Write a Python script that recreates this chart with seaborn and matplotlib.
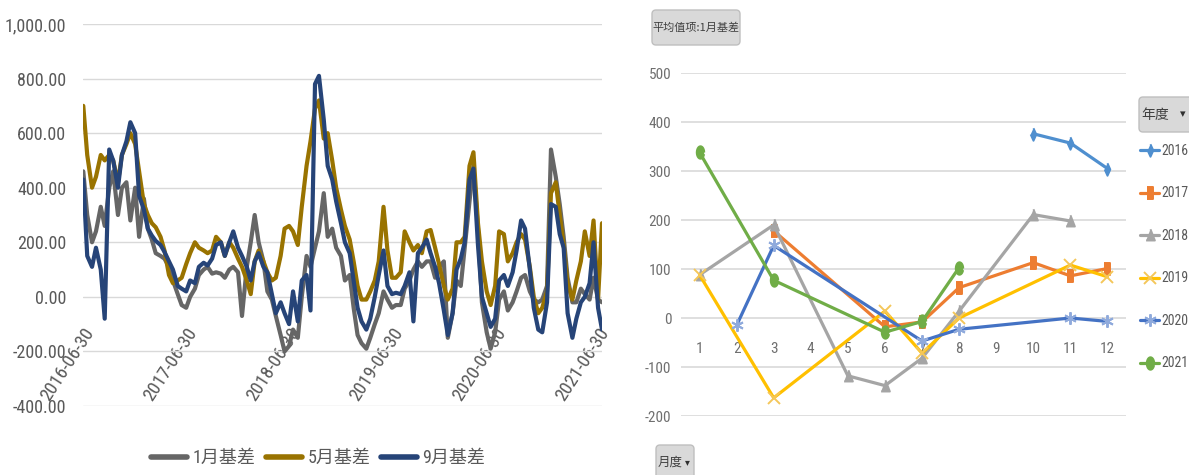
import numpy as np
import pandas as pd
import matplotlib
matplotlib.use("Agg")
import matplotlib.pyplot as plt
from matplotlib import font_manager as fm
from matplotlib.patches import FancyBboxPatch
from matplotlib.lines import Line2D
from matplotlib.ticker import FuncFormatter
import seaborn as sns

sns.set_style("white")

# Narrow Latin face first, CJK face for the Chinese labels
_names = {f.name for f in fm.fontManager.ttflist}
NARROW = next((n for n in ["Liberation Sans Narrow", "Roboto Condensed",
                           "Open Sans Condensed", "DejaVu Sans Condensed",
                           "Liberation Sans"] if n in _names), "DejaVu Sans")
CJK = "Noto Sans CJK SC"
plt.rcParams["font.family"] = [NARROW, CJK, "DejaVu Sans"]
plt.rcParams["axes.unicode_minus"] = False

TEXT = "#595959"
GRID = "#D9D9D9"

# ---------------- basis series (semi-monthly samples) ----------------
basis_dates = pd.date_range("2016-07-01", periods=122, freq="SMS")

jan_basis = [
    460, 300, 200, 240, 330, 260, 400, 460, 300, 400,
    420, 280, 400, 220, 360, 250, 210, 160, 150, 140,
    110, 60, 10, -30, -40, 0, 30, 80, 100, 110,
    85, 90, 85, 70, 100, 110, 90, -70, 110, 200,
    300, 200, 130, 20, -10, -70, -140, -200, -180, -120,
    -150, 0, 150, 110, 180, 240, 380, 220, 250, 180,
    150, 60, 80, -40, -140, -170, -190, -150, -100, -60,
    20, -10, -40, -30, -30, 30, 60, 100, 130, 110,
    130, 130, 70, 110, 130, -150, -60, 60, 40, 180,
    350, 480, 250, -20, -130, -190, -130, -10, 20, -50,
    -20, 20, 70, 80, 20, -10, -20, -10, 40, 540,
    440, 340, 220, 70, -20, -20, 30, 10, -10, 70,
    -10, -20,
]

may_basis = [
    700, 520, 400, 440, 520, 500, 520, 500, 420, 520,
    560, 600, 560, 460, 340, 300, 270, 255, 220, 170,
    80, 50, 60, 70, 120, 160, 200, 180, 170, 160,
    170, 220, 200, 150, 200, 180, 140, 110, 60, 10,
    130, 170, 130, 90, 60, 70, 150, 250, 260, 240,
    190, 330, 480, 570, 690, 720, 580, 600, 500, 400,
    320, 260, 210, 130, 40, -10, -10, 20, 60, 130,
    330, 170, 70, 70, 90, 240, 200, 170, 190, 160,
    240, 245, 180, 120, 40, -10, 30, 200, 200, 220,
    480, 530, 270, 130, 20, -30, 40, 240, 230, 130,
    160, 200, 230, 210, 110, 0, -60, -40, 20, 380,
    420, 300, 190, 50, -10, 60, 130, 240, 150, 280,
    -10, 270,
]

sep_basis = [
    430, 150, 110, 180, 100, -80, 540, 500, 400, 520,
    570, 640, 600, 370, 320, 250, 225, 205, 190, 165,
    130, 100, 40, 30, 20, 60, 50, 110, 125, 115,
    140, 190, 200, 150, 200, 240, 180, 150, 110, 60,
    130, 160, 110, 90, 10, -60, -20, -60, -100, 20,
    -90, 60, 80, -50, 780, 810, 650, 480, 430, 350,
    270, 200, 160, 60, -40, -90, -120, -80, 0, 80,
    170, 40, 10, 15, 10, 40, 90, -90, 160, 180,
    210, 160, 110, 50, -50, -140, -60, 100, 140, 200,
    430, 470, 190, 0, -60, -110, -80, 60, 80, 40,
    90, 170, 280, 250, 100, -40, -120, -130, -20, 340,
    330, 230, 180, -60, -150, -80, -20, 0, 50, 200,
    -40, -120,
]

series_names = ["1月基差", "5月基差", "9月基差"]
series_colors = ["#666666", "#997300", "#264478"]
date_ticks = ["2016-06-30", "2017-06-30", "2018-06-30",
              "2019-06-30", "2020-06-30", "2021-06-30"]

# ---------------- monthly averages of 1月基差 by year ----------------
years = ["2016", "2017", "2018", "2019", "2020", "2021"]
months_2016 = [10, 11, 12]
avg_2016 = [376, 357, 305]
months_2017 = [3, 6, 7, 8, 10, 11, 12]
avg_2017 = [178, -18, -8, 62, 113, 86, 101]
months_2018 = [1, 3, 5, 6, 7, 8, 10, 11]
avg_2018 = [88, 190, -118, -138, -82, 14, 211, 198]
months_2019 = [1, 3, 6, 7, 8, 11, 12]
avg_2019 = [88, -163, 14, -72, 0, 108, 84]
months_2020 = [2, 3, 7, 8, 11, 12]
avg_2020 = [-15, 148, -47, -23, 0, -7]
months_2021 = [1, 3, 6, 7, 8]
avg_2021 = [338, 77, -29, -7, 103]
month_labels = [str(m) for m in range(1, 13)]

year_colors = ["#4F8FCF", "#ED7D31", "#A5A5A5", "#FFC000", "#4472C4", "#70AD47"]
year_marker_edges = ["#4F8FCF", "#ED7D31", "#A5A5A5", "#F4C75A", "#8FAADC", "#70AD47"]

_t = np.linspace(0, 2 * np.pi, 24, endpoint=False)
year_markers = [
    [(0, 1), (0.45, 0), (0, -1), (-0.45, 0)],                 # slim diamond
    [(-0.55, -1), (0.55, -1), (0.55, 1), (-0.55, 1)],         # slim square
    [(0, 1), (0.7, -0.8), (-0.7, -0.8)],                      # triangle
    "x",
    (6, 2, 0),                                                # asterisk
    list(zip(0.6 * np.cos(_t), np.sin(_t))),                  # slim oval
]

W, H = 1189, 475
fig = plt.figure(figsize=(W / 100, H / 100), dpi=100)

# ======================= left: daily basis lines =======================
ax1 = fig.add_axes([83 / W, 1 - 406 / H, (602 - 83) / W, (406 - 24) / H])
basis = pd.DataFrame({"date": basis_dates, "1月基差": jan_basis,
                      "5月基差": may_basis, "9月基差": sep_basis})
basis_long = basis.melt(id_vars="date", var_name="合约", value_name="基差")
sns.lineplot(data=basis_long, x="date", y="基差", hue="合约",
             hue_order=series_names, palette=series_colors,
             linewidth=3.0, legend=False, sort=False, ax=ax1,
             solid_joinstyle="round")

ax1.set_xlim(pd.Timestamp("2016-06-30"), pd.Timestamp("2021-07-15"))
ax1.set_ylim(-400, 1000)
ax1.set_yticks(range(-400, 1001, 200))
ax1.yaxis.set_major_formatter(FuncFormatter(lambda v, p: f"{v:,.2f}"))
ax1.set_xticks(pd.to_datetime(date_ticks))
ax1.set_xticklabels(date_ticks)
ax1.set_xlabel("")
ax1.set_ylabel("")
ax1.set_axisbelow(True)
ax1.yaxis.grid(True, color=GRID, linewidth=1.0)
ax1.xaxis.grid(False)
for s in ax1.spines.values():
    s.set_visible(False)
ax1.spines["bottom"].set_position(("data", 0))
ax1.tick_params(axis="y", length=0, pad=12, labelsize=13, labelcolor=TEXT)
ax1.tick_params(axis="x", length=0, pad=20, labelsize=13.5, labelcolor=TEXT)
for lab in ax1.get_xticklabels():
    lab.set_rotation(57)
    lab.set_ha("right")
    lab.set_va("top")
    lab.set_rotation_mode("anchor")

left_handles = [Line2D([], [], color=c, linewidth=4) for c in series_colors]
fig.legend(left_handles, series_names, loc="center",
           bbox_to_anchor=(318 / W, 1 - 458 / H), ncol=3, frameon=False,
           fontsize=13, handlelength=2.0, handletextpad=0.3,
           columnspacing=0.6, labelcolor=TEXT)

# ================= right: monthly average by year =================
ax2 = fig.add_axes([681 / W, 1 - 416 / H, (1126 - 681) / W, (416 - 73) / H])
year_months = [months_2016, months_2017, months_2018, months_2019, months_2020, months_2021]
year_avgs = [avg_2016, avg_2017, avg_2018, avg_2019, avg_2020, avg_2021]
for yr, mo, av, col, mk, me in zip(years, year_months, year_avgs,
                                   year_colors, year_markers, year_marker_edges):
    sns.lineplot(x=mo, y=av, color=col, linewidth=2.3, marker=mk,
                 markersize=9, markerfacecolor=me, markeredgecolor=me,
                 markeredgewidth=1.4, ax=ax2, sort=True)

ax2.set_xlim(0.5, 12.5)
ax2.set_ylim(-200, 500)
ax2.set_yticks(range(-200, 501, 100))
ax2.set_xticks(range(1, 13))
ax2.set_xticklabels(month_labels)
ax2.set_xlabel("")
ax2.set_ylabel("")
ax2.set_axisbelow(True)
ax2.yaxis.grid(True, color=GRID, linewidth=1.2)
ax2.xaxis.grid(False)
for s in ax2.spines.values():
    s.set_visible(False)
ax2.spines["bottom"].set_position(("data", 0))
ax2.tick_params(axis="y", length=0, pad=7, labelsize=11, labelcolor="#6F6F6F")
ax2.tick_params(axis="x", length=0, pad=17, labelsize=11, labelcolor="#6F6F6F")

right_handles = [Line2D([], [], color=c, linewidth=2.3, marker=m, markersize=9,
                        markerfacecolor=e, markeredgecolor=e, markeredgewidth=1.4)
                 for c, m, e in zip(year_colors, year_markers, year_marker_edges)]
fig.legend(right_handles, years, loc="upper left",
           bbox_to_anchor=(1140 / W, 1 - 144 / H), ncol=1, frameon=False,
           fontsize=10, handlelength=1.4, handletextpad=0.15,
           labelspacing=2.05, borderpad=0, borderaxespad=0, labelcolor=TEXT)

# pivot field buttons
def button(x0, y0, x1, y1):
    box = FancyBboxPatch((x0 / 100, (H - y1) / 100), (x1 - x0) / 100, (y1 - y0) / 100,
                         boxstyle="round,pad=0,rounding_size=0.04",
                         transform=fig.dpi_scale_trans, facecolor="#D9D9D9",
                         edgecolor="#BFBFBF", linewidth=1.0, zorder=5)
    fig.add_artist(box)

button(652, 10, 740, 45)
fig.text(696 / W, 1 - 28 / H, "平均值项:1月基差", ha="center", va="center",
         fontsize=8, color="#404040", family=[CJK, "DejaVu Sans"], zorder=6)

button(1139, 97, 1195, 132)
fig.text(1141 / W, 1 - 115 / H, "年度", ha="left", va="center",
         fontsize=10, color="#404040", family=[CJK, "DejaVu Sans"], zorder=6)
fig.text(1183 / W, 1 - 114 / H, "▾", ha="center", va="center",
         fontsize=8, color="#303030", family=["DejaVu Sans"], zorder=6)

button(656, 445, 694, 482)
fig.text(658 / W, 1 - 462 / H, "月度", ha="left", va="center",
         fontsize=9, color="#404040", family=[CJK, "DejaVu Sans"], zorder=6)
fig.text(687 / W, 1 - 462 / H, "▾", ha="center", va="center",
         fontsize=7, color="#303030", family=["DejaVu Sans"], zorder=6)

fig.savefig("out.png", dpi=100)
